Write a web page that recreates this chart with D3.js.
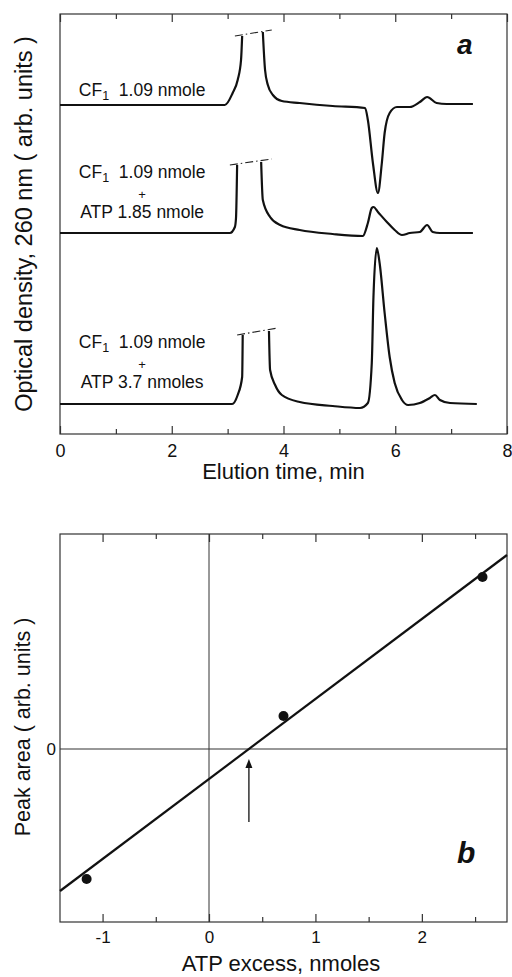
<!DOCTYPE html>
<html>
<head>
<meta charset="utf-8">
<script src="https://cdn.jsdelivr.net/npm/d3@7"></script>
<style>
  body { margin: 0; background: #fff; }
  svg { display: block; }
  text { font-family: "Liberation Sans", Arial, Helvetica, sans-serif; fill: #111; }
</style>
</head>
<body>
<div id="chart"></div>
<script>
// ---- panel a: elution profiles (time in min, OD in arb. units relative to each trace baseline)
const timeDomain = [0, 8];
const odDomain = [0, 42];
const timeTicksMajor = [0, 2, 4, 6, 8];
const timeTicksMinor = [1, 3, 5, 7];
const traceOffsets = [32.9, 20.1, 3.0];

// left flank (up to the off-scale CF1 peak) and the rest of each trace
const trace1Left = [[0, 0], [2.95, 0], [3.09, 1.2], [3.18, 2.5], [3.24, 4.5], [3.26, 6.9]];
const trace1Right = [[3.63, 7.3], [3.67, 3.5], [3.72, 2.0], [3.81, 1.0], [3.97, 0.4], [4.29, 0.2],
  [4.88, -0.1], [5.46, -0.3], [5.51, -1.5], [5.60, -5.8], [5.69, -8.8], [5.76, -5.8], [5.81, -2.8],
  [5.90, -0.8], [6.03, -0.2], [6.26, -0.2], [6.44, 0.3], [6.57, 0.8], [6.74, 0.2], [6.92, 0.1], [7.39, 0.1]];
const trace1Cap = [[3.13, 6.9], [3.79, 7.5]];

const trace2Left = [[0, 0], [3.04, 0], [3.13, 0.6], [3.15, 1.5], [3.17, 6.8]];
const trace2Right = [[3.60, 7.1], [3.63, 3.3], [3.76, 1.6], [3.94, 0.8], [4.29, 0.3], [4.88, -0.1],
  [5.42, -0.3], [5.51, 1.0], [5.58, 2.5], [5.61, 2.6], [5.69, 2.1], [5.85, 1.1], [5.99, 0.3],
  [6.12, -0.2], [6.26, 0], [6.44, 0.1], [6.57, 0.8], [6.67, 0.1], [6.80, 0], [7.39, 0]];
const trace2Cap = [[3.04, 6.8], [3.79, 7.4]];

const trace3Left = [[0, 0], [3.08, 0], [3.18, 0.9], [3.26, 2.7], [3.27, 6.9]];
const trace3Right = [[3.74, 7.3], [3.76, 3.4], [3.85, 1.9], [3.97, 0.9], [4.29, 0.2], [4.88, -0.2],
  [5.37, -0.4], [5.51, 0.1], [5.58, 4.1], [5.61, 10.7], [5.67, 15.6], [5.72, 14.1], [5.81, 9.1],
  [5.90, 4.7], [5.99, 2.1], [6.12, 0.4], [6.23, -0.1], [6.44, 0.1], [6.62, 0.6], [6.71, 0.9],
  [6.80, 0.4], [6.98, 0.1], [7.46, 0]];
const trace3Cap = [[3.17, 6.9], [3.90, 7.6]];

const traceLabels = [
  [["CF", "1", "  1.09 nmole"]],
  [["CF", "1", "  1.09 nmole"], ["+"], ["ATP 1.85 nmole"]],
  [["CF", "1", "  1.09 nmole"], ["+"], ["ATP 3.7 nmoles"]]
];

// ---- panel b: peak area vs ATP excess
const excessDomain = [-1.4, 2.8];
const areaDomain = [-1.73, 2.15];
const excessTicksMajor = [-1, 0, 1, 2];
const excessTicksMinor = [-0.5, 0.5, 1.5, 2.5];
const excessValues = [-1.15, 0.70, 2.57];
const areaValues = [-1.30, 0.33, 1.72];
const fitSlope = 0.80;
const fitIntercept = -0.30;

// ---------------------------------------------------------------
const W = 512, H = 977;
const svg = d3.select("#chart").append("svg").attr("width", W).attr("height", H);

const pa = { left: 60, right: 507, top: 14, bottom: 434 };
const pb = { left: 60, right: 507, top: 534, bottom: 922 };

const xa = d3.scaleLinear().domain(timeDomain).range([pa.left, pa.right]);
const ya = d3.scaleLinear().domain(odDomain).range([pa.bottom, pa.top]);
const xb = d3.scaleLinear().domain(excessDomain).range([pb.left, pb.right]);
const yb = d3.scaleLinear().domain(areaDomain).range([pb.bottom, pb.top]);

function frame(p) {
  svg.append("rect")
    .attr("x", p.left).attr("y", p.top)
    .attr("width", p.right - p.left).attr("height", p.bottom - p.top)
    .attr("fill", "none").attr("stroke", "#333").attr("stroke-width", 1.2);
}

function ticks(scale, p, major, minor, fontSize, pad) {
  const styleAxis = g => {
    g.select(".domain").remove();
    g.selectAll(".tick line").attr("stroke", "#333").attr("stroke-width", 1.2);
    g.selectAll("text").attr("font-family", null).attr("font-size", fontSize).attr("fill", "#111");
  };
  svg.append("g").attr("transform", `translate(0,${p.bottom})`)
    .call(d3.axisBottom(scale).tickValues(major).tickSizeInner(-8).tickSizeOuter(0).tickPadding(pad)
      .tickFormat(d => d < 0 ? "-" + Math.abs(d) : d))
    .call(styleAxis);
  svg.append("g").attr("transform", `translate(0,${p.bottom})`)
    .call(d3.axisBottom(scale).tickValues(minor).tickSizeInner(-5).tickSizeOuter(0).tickFormat(""))
    .call(styleAxis);
  svg.append("g").attr("transform", `translate(0,${p.top})`)
    .call(d3.axisTop(scale).tickValues(major).tickSizeInner(-8).tickSizeOuter(0).tickFormat(""))
    .call(styleAxis);
  svg.append("g").attr("transform", `translate(0,${p.top})`)
    .call(d3.axisTop(scale).tickValues(minor).tickSizeInner(-5).tickSizeOuter(0).tickFormat(""))
    .call(styleAxis);
}

// ---- panel a
frame(pa);
ticks(xa, pa, timeTicksMajor, timeTicksMinor, 18, 10);

const traces = [
  { left: trace1Left, right: trace1Right, cap: trace1Cap, labelDy: 9 },
  { left: trace2Left, right: trace2Right, cap: trace2Cap, labelDy: 15 },
  { left: trace3Left, right: trace3Right, cap: trace3Cap, labelDy: 16 }
];

traces.forEach((t, i) => {
  const off = traceOffsets[i];
  const line = d3.line()
    .x(d => xa(d[0]))
    .y(d => ya(d[1] + off))
    .curve(d3.curveMonotoneX);
  [t.left, t.right].forEach(seg => {
    svg.append("path").datum(seg)
      .attr("d", line)
      .attr("fill", "none").attr("stroke", "#111")
      .attr("stroke-width", 2.2).attr("stroke-linejoin", "round");
  });
  svg.append("path").datum(t.cap)
    .attr("d", d3.line().x(d => xa(d[0])).y(d => ya(d[1] + off)))
    .attr("fill", "none").attr("stroke", "#222").attr("stroke-width", 1.1)
    .attr("stroke-dasharray", "8,3,1.5,3");

  // labels, stacked upward from the last line
  const base = ya(off) - t.labelDy;
  const lines = traceLabels[i];
  const lineY = lines.length === 1 ? [0] : [-40, -19, 0];
  lines.forEach((parts, j) => {
    const tx = svg.append("text")
      .attr("x", xa(1.47)).attr("y", base + lineY[j])
      .attr("text-anchor", "middle")
      .attr("font-size", parts[0] === "+" ? 13 : 17.5)
      .style("white-space", "pre");
    if (parts.length === 1) {
      tx.text(parts[0]);
    } else {
      tx.append("tspan").text(parts[0]);
      tx.append("tspan").attr("font-size", 12.5).attr("dy", 4).attr("fill", "#111").text(parts[1]);
      tx.append("tspan").attr("dy", -4).text(parts[2]);
    }
  });
});

svg.append("text").attr("x", 457).attr("y", 54)
  .attr("font-size", 28).attr("font-weight", "bold").attr("font-style", "italic").text("a");

svg.append("text").attr("x", (pa.left + pa.right) / 2).attr("y", 479)
  .attr("text-anchor", "middle").attr("font-size", 22).text("Elution time, min");

svg.append("text").attr("transform", `translate(32,${(pa.top + pa.bottom) / 2}) rotate(-90)`)
  .attr("text-anchor", "middle").attr("font-size", 23.5)
  .text("Optical density, 260 nm ( arb. units )");

// ---- panel b
frame(pb);
ticks(xb, pb, excessTicksMajor, excessTicksMinor, 17, 9);

svg.append("line")
  .attr("x1", xb(0)).attr("x2", xb(0)).attr("y1", pb.top).attr("y2", pb.bottom)
  .attr("stroke", "#333").attr("stroke-width", 1);
svg.append("line")
  .attr("x1", pb.left).attr("x2", pb.right).attr("y1", yb(0)).attr("y2", yb(0))
  .attr("stroke", "#333").attr("stroke-width", 1.2);

svg.append("text").attr("x", 56).attr("y", yb(0) + 6)
  .attr("text-anchor", "end").attr("font-size", 17).text("0");

// fitted line across the whole panel
const fitPts = excessDomain.map(x => [x, fitIntercept + fitSlope * x]);
svg.append("path").datum(fitPts)
  .attr("d", d3.line().x(d => xb(d[0])).y(d => yb(d[1])))
  .attr("fill", "none").attr("stroke", "#111").attr("stroke-width", 2.2);

// arrow at the x-intercept of the fit
const x0 = -fitIntercept / fitSlope;
const ax = xb(x0), tipY = yb(0) + 10, tailY = yb(-0.73);
svg.append("line").attr("x1", ax).attr("x2", ax).attr("y1", tipY + 6).attr("y2", tailY)
  .attr("stroke", "#111").attr("stroke-width", 1.3);
svg.append("path")
  .attr("d", `M${ax},${tipY} L${ax - 3.5},${tipY + 9} L${ax + 3.5},${tipY + 9} Z`)
  .attr("fill", "#111");

svg.selectAll("circle.pt").data(excessValues).join("circle")
  .attr("class", "pt")
  .attr("cx", d => xb(d))
  .attr("cy", (d, i) => yb(areaValues[i]))
  .attr("r", 5).attr("fill", "#111");

svg.append("text").attr("x", 457).attr("y", 863)
  .attr("font-size", 30).attr("font-weight", "bold").attr("font-style", "italic").text("b");

svg.append("text").attr("x", 281).attr("y", 971)
  .attr("text-anchor", "middle").attr("font-size", 22).text("ATP excess, nmoles");

svg.append("text").attr("transform", `translate(30,727) rotate(-90)`)
  .attr("text-anchor", "middle").attr("font-size", 21.5)
  .text("Peak area ( arb. units )");
</script>
</body>
</html>
